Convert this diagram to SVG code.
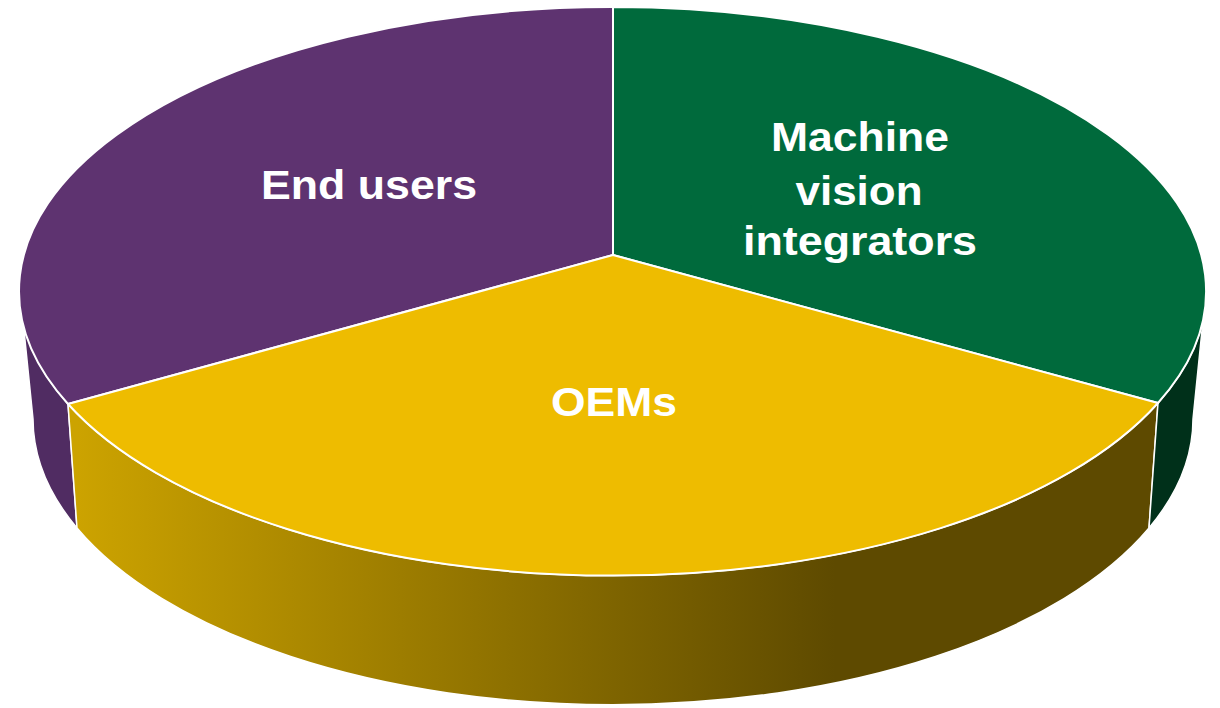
<svg xmlns="http://www.w3.org/2000/svg" width="1220" height="708" viewBox="0 0 1220 708">
<defs>
<linearGradient id="ySide" gradientUnits="userSpaceOnUse" x1="77" y1="0" x2="835" y2="0">
<stop offset="0" stop-color="#CCA300"/>
<stop offset="1" stop-color="#5E4A00"/>
</linearGradient>
</defs>
<style>
.side{stroke:#FFFFFF;stroke-width:1.5;stroke-linejoin:round}
.top{stroke:#FFFFFF;stroke-width:2;stroke-linejoin:round}
.lbl{font-family:"Liberation Sans",Arial,sans-serif;font-weight:bold;font-size:40px;fill:#FFFFFF;text-anchor:middle}
</style>
<rect width="1220" height="708" fill="#FFFFFF"/>
<g id="end-users">
<path class="side" fill="#502C62" d="M 20,291 A 593 284 0 0 0 68,404 L 77,528 A 580 286 0 0 1 33,419 Z"/>
</g>
<g id="oems">
<path class="side" fill="url(#ySide)" d="M 68,404 A 593 284 0 0 0 1158,403 L 1149,528 A 580 286 0 0 1 77,528 Z"/>
</g>
<g id="integrators">
<path class="side" fill="#00301A" d="M 1158,403 A 593 284 0 0 0 1206,291 L 1193,419 A 580 286 0 0 1 1149,528 Z"/>
</g>
<g id="end-users-top">
<path class="top" fill="#5E3370" d="M 613,255 L 613,7 A 593 284 0 0 0 68,404 Z"/>
<text class="lbl" x="369" y="199" textLength="216" lengthAdjust="spacingAndGlyphs">End users</text>
</g>
<g id="integrators-top">
<path class="top" fill="#006A3C" d="M 613,255 L 613,7 A 593 284 0 0 1 1158,403 Z"/>
<text class="lbl" x="860" y="151" textLength="178" lengthAdjust="spacingAndGlyphs">Machine</text>
<text class="lbl" x="859" y="205" textLength="127" lengthAdjust="spacingAndGlyphs">vision</text>
<text class="lbl" x="860" y="255" textLength="234" lengthAdjust="spacingAndGlyphs">integrators</text>
</g>
<g id="oems-top">
<path class="top" fill="#EEBC00" d="M 613,255 L 68,404 A 593 284 0 0 0 1158,403 Z"/>
<text class="lbl" x="614" y="416" textLength="126" lengthAdjust="spacingAndGlyphs">OEMs</text>
</g>
<g id="connectors"></g>
</svg>
